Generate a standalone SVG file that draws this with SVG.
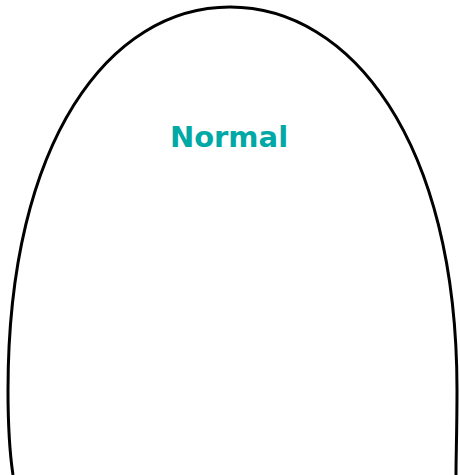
<svg xmlns="http://www.w3.org/2000/svg" width="460" height="475" viewBox="0 0 460 475">
  <style>
    .arch { fill: none; stroke: #000; stroke-width: 3; stroke-linecap: butt; }
    .label { font-family: "DejaVu Sans", "Liberation Sans", sans-serif; font-weight: bold; font-size: 29px; fill: #00A9A6; }
  </style>
  <rect width="460" height="475" fill="#fff"/>
  <g id="connectors">
    <path class="arch" d="M 13 475 C 10 455, 8 430, 8 390 C 8 140, 110 7, 230 7 C 350 7, 457 140, 457 390 C 457 430, 456 455, 456 475"/>
  </g>
  <g id="normal">
    <text class="label" x="229" y="147" text-anchor="middle">Normal</text>
  </g>
</svg>
